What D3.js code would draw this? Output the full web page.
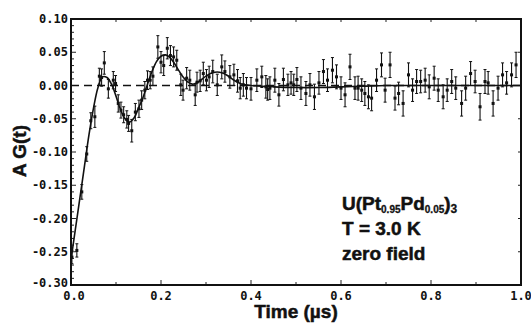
<!DOCTYPE html>
<html>
<head>
<meta charset="utf-8">
<script src="https://cdn.jsdelivr.net/npm/d3@7"></script>
<style>
  body { margin: 0; background: #fff; }
  .tick-lbl { font-family: "DejaVu Sans Mono", monospace; font-size: 12px; font-weight: bold; fill: #111; }
  .big { font-family: "Liberation Sans", Arial, sans-serif; font-weight: bold; fill: #111; stroke: #111; stroke-width: 0.5px; }
</style>
</head>
<body>
<div id="chart"></div>
<script>
// measured asymmetry A G(t) vs time (µs)
let times = [0.002, 0.013, 0.024, 0.035, 0.044, 0.053, 0.063, 0.068, 0.074, 0.083, 0.094, 0.099,
    0.105, 0.111, 0.117, 0.124, 0.128, 0.135, 0.143, 0.151, 0.157, 0.164, 0.170, 0.176, 0.182, 0.193,
    0.200, 0.206, 0.214, 0.221, 0.228, 0.235, 0.244, 0.249, 0.257, 0.264, 0.276, 0.280, 0.287, 0.294,
    0.301, 0.307, 0.315, 0.325, 0.335, 0.342, 0.353, 0.362, 0.370, 0.376, 0.383, 0.390, 0.400, 0.413,
    0.424, 0.433, 0.437, 0.442, 0.453, 0.462, 0.472, 0.482, 0.489, 0.495, 0.502, 0.511, 0.522, 0.531,
    0.541, 0.551, 0.561, 0.570, 0.581, 0.590, 0.600, 0.609, 0.620, 0.631, 0.638, 0.646, 0.653, 0.661,
    0.668, 0.679, 0.690, 0.698, 0.709, 0.720, 0.728, 0.738, 0.750, 0.759, 0.768, 0.777, 0.787, 0.796,
    0.807, 0.816, 0.827, 0.836, 0.846, 0.855, 0.868, 0.877, 0.888, 0.898, 0.909, 0.920, 0.927, 0.938,
    0.949, 0.959, 0.968, 0.979, 0.989];
let values = [-0.258, -0.248, -0.160, -0.103, -0.053, -0.047, 0.014, 0.012, 0.034, -0.005, 0.008, 0.003,
    -0.027, -0.037, -0.044, -0.051, -0.057, -0.068, -0.040, -0.035, -0.022, -0.007, 0.008, 0.008, 0.014, 0.058,
    0.035, 0.030, 0.056, 0.045, 0.043, 0.038, 0.001, -0.007, 0.011, 0.008, -0.014, 0.005, 0.007, 0.018,
    0.008, 0.013, 0.021, 0.001, 0.028, 0.021, 0.013, 0.016, 0.007, -0.004, 0.001, -0.004, -0.005, 0.008,
    0.013, -0.002, -0.006, -0.004, 0.008, -0.014, 0.009, 0.001, 0.004, 0.001, 0.009, -0.004, -0.012, 0.001,
    -0.017, 0.004, 0.021, 0.008, 0.023, 0.013, -0.004, -0.014, 0.028, -0.004, -0.004, -0.007, -0.012, -0.017,
    -0.019, 0.008, 0.031, -0.007, 0.031, -0.019, -0.012, -0.027, 0.016, -0.007, 0.006, 0.006, 0.008, -0.002,
    0.011, -0.007, -0.017, -0.007, 0.006, -0.004, -0.027, -0.004, 0.018, 0.006, -0.032, 0.006, 0.004, -0.027,
    -0.004, 0.016, 0.004, 0.016, 0.031];
let errors = [0.010, 0.010, 0.011, 0.011, 0.012, 0.016, 0.012, 0.013, 0.017, 0.014, 0.013, 0.012,
    0.013, 0.012, 0.012, 0.013, 0.012, 0.017, 0.013, 0.013, 0.014, 0.013, 0.014, 0.013, 0.014, 0.017,
    0.016, 0.015, 0.016, 0.015, 0.015, 0.015, 0.016, 0.015, 0.016, 0.015, 0.016, 0.015, 0.016, 0.017,
    0.016, 0.016, 0.017, 0.016, 0.018, 0.016, 0.017, 0.016, 0.017, 0.016, 0.017, 0.016, 0.017, 0.017,
    0.016, 0.017, 0.016, 0.017, 0.018, 0.017, 0.017, 0.016, 0.017, 0.016, 0.018, 0.017, 0.018, 0.017,
    0.019, 0.017, 0.018, 0.017, 0.019, 0.018, 0.017, 0.018, 0.019, 0.017, 0.018, 0.017, 0.018, 0.018,
    0.019, 0.017, 0.018, 0.018, 0.019, 0.018, 0.017, 0.019, 0.018, 0.017, 0.018, 0.017, 0.018, 0.018,
    0.018, 0.017, 0.018, 0.017, 0.018, 0.017, 0.019, 0.018, 0.018, 0.017, 0.020, 0.018, 0.017, 0.019,
    0.018, 0.018, 0.017, 0.018, 0.019];

// fitted curve
let fitT = [0, 0.01, 0.02, 0.03, 0.04, 0.05, 0.06, 0.07, 0.08, 0.09, 0.10, 0.11, 0.12, 0.13, 0.14, 0.15,
    0.16, 0.17, 0.18, 0.19, 0.20, 0.21, 0.22, 0.23, 0.24, 0.25, 0.26, 0.27, 0.28, 0.29, 0.30, 0.31, 0.32,
    0.33, 0.34, 0.35, 0.36, 0.37, 0.38, 0.40, 0.45, 0.50, 0.55, 0.60, 0.65, 0.70, 0.80, 0.90, 1.00];
let fitV = [-0.262, -0.215, -0.168, -0.121, -0.074, -0.034, -0.003, 0.013, 0.012, 0.002, -0.016, -0.036,
    -0.050, -0.055, -0.049, -0.034, -0.018, 0.002, 0.021, 0.036, 0.044, 0.046, 0.042, 0.033, 0.022, 0.012,
    0.005, 0.002, 0.004, 0.009, 0.014, 0.018, 0.020, 0.020, 0.018, 0.014, 0.009, 0.005, 0.002, 0.000,
    -0.002, -0.003, -0.003, -0.002, -0.001, 0.000, 0.000, 0.000, 0.000];

let yTicks = [0.10, 0.05, 0.00, -0.05, -0.10, -0.15, -0.20, -0.25, -0.30];
let yTickLabels = ["0.10", "0.05", "0.00", "-0.05", "-0.10", "-0.15", "-0.20", "-0.25", "-0.30"];
let xTicks = [0, 0.2, 0.4, 0.6, 0.8, 1.0];
let xTickLabels = ["0.0", "0.2", "0.4", "0.6", "0.8", "1.0"];

let W = 531, H = 323;
let margin = {top: 19, right: 10, bottom: 38, left: 71};
let width = W - margin.left - margin.right;
let height = H - margin.top - margin.bottom;

let svg = d3.select("#chart").append("svg")
    .attr("width", W)
    .attr("height", H);
let g = svg.append("g")
    .attr("transform", "translate(" + margin.left + "," + margin.top + ")");

let x = d3.scaleLinear().domain([0, 1]).range([0, width]);
let y = d3.scaleLinear().domain([-0.30, 0.10]).range([height, 0]);

// minor/major ticks, pointing inward
let yMinor = d3.range(-0.30, 0.1001, 0.01);
g.selectAll(".ytk").data(yMinor).enter().append("line")
    .attr("x1", 0)
    .attr("x2", (d, i) => i % 5 == 0 ? 5 : 3)
    .attr("y1", d => y(d)).attr("y2", d => y(d))
    .attr("stroke", "#222").attr("stroke-width", 1);
g.selectAll(".ytkr").data(yTicks).enter().append("line")
    .attr("x1", width).attr("x2", width - 3)
    .attr("y1", d => y(d)).attr("y2", d => y(d))
    .attr("stroke", "#222").attr("stroke-width", 1);
let xMinor = d3.range(0, 1.0001, 0.1);
g.selectAll(".xtk").data(xMinor).enter().append("line")
    .attr("x1", d => x(d)).attr("x2", d => x(d))
    .attr("y1", height).attr("y2", (d, i) => height - (i % 2 == 0 ? 5 : 3))
    .attr("stroke", "#222").attr("stroke-width", 1);
g.selectAll(".xtkt").data(xMinor).enter().append("line")
    .attr("x1", d => x(d)).attr("x2", d => x(d))
    .attr("y1", 0).attr("y2", 3)
    .attr("stroke", "#222").attr("stroke-width", 1);

// tick labels
g.selectAll(".ylbl").data(yTicks).enter().append("text")
    .attr("class", "tick-lbl")
    .attr("x", -3)
    .attr("y", d => y(d) + (d == -0.30 ? 2 : 4))
    .attr("text-anchor", "end")
    .text((d, i) => yTickLabels[i]);
g.selectAll(".xlbl").data(xTicks).enter().append("text")
    .attr("class", "tick-lbl")
    .attr("x", d => x(d) + (d == 0 ? 3 : 0))
    .attr("y", height + 15)
    .attr("text-anchor", "middle")
    .text((d, i) => xTickLabels[i]);

// dashed zero line
g.append("line")
    .attr("x1", 0).attr("x2", width)
    .attr("y1", y(0)).attr("y2", y(0))
    .attr("stroke", "#111").attr("stroke-width", 1.4)
    .attr("stroke-dasharray", "8,5");

// fit line
let fitData = fitT.map((t, i) => ({t: t, v: fitV[i]}));
let line = d3.line()
    .x(d => x(d.t))
    .y(d => y(d.v))
    .curve(d3.curveCatmullRom);
g.append("path")
    .datum(fitData)
    .attr("d", line)
    .attr("fill", "none")
    .attr("stroke", "#111")
    .attr("stroke-width", 1.6);

// data with error bars
let pts = times.map((t, i) => ({t: t, v: values[i], e: errors[i]}));
let pg = g.selectAll(".pt").data(pts).enter().append("g").attr("class", "pt");
pg.append("line")
    .attr("x1", d => x(d.t)).attr("x2", d => x(d.t))
    .attr("y1", d => y(d.v - d.e)).attr("y2", d => y(d.v + d.e))
    .attr("stroke", "#111").attr("stroke-width", 1.1);
pg.append("line")
    .attr("x1", d => x(d.t) - 1.5).attr("x2", d => x(d.t) + 1.5)
    .attr("y1", d => y(d.v + d.e)).attr("y2", d => y(d.v + d.e))
    .attr("stroke", "#111").attr("stroke-width", 1);
pg.append("line")
    .attr("x1", d => x(d.t) - 1.5).attr("x2", d => x(d.t) + 1.5)
    .attr("y1", d => y(d.v - d.e)).attr("y2", d => y(d.v - d.e))
    .attr("stroke", "#111").attr("stroke-width", 1);
pg.append("rect")
    .attr("x", d => x(d.t) - 1.5).attr("y", d => y(d.v) - 1.5)
    .attr("width", 3).attr("height", 3)
    .attr("fill", "#111");

// frame
g.append("rect")
    .attr("x", 0).attr("y", 0)
    .attr("width", width).attr("height", height)
    .attr("fill", "none")
    .attr("stroke", "#111").attr("stroke-width", 2);

// axis titles
svg.append("text")
    .attr("class", "big")
    .attr("transform", "translate(26,151) rotate(-90)")
    .attr("text-anchor", "middle")
    .style("font-size", "19px")
    .text("A G(t)");
svg.append("text")
    .attr("class", "big")
    .attr("x", margin.left + width / 2)
    .attr("y", 318)
    .attr("text-anchor", "middle")
    .style("font-size", "19px")
    .text("Time (\u00b5s)");

// annotation
let ann = svg.append("text")
    .attr("class", "big")
    .attr("x", 342)
    .attr("y", 210)
    .style("font-size", "19px");
ann.append("tspan").text("U(Pt");
ann.append("tspan").attr("dy", 3).style("font-size", "10px").style("stroke-width", "0.3px").text("0.95");
ann.append("tspan").attr("dy", -3).text("Pd");
ann.append("tspan").attr("dy", 3).style("font-size", "10px").style("stroke-width", "0.3px").text("0.05");
ann.append("tspan").attr("dy", -3).text(")");
ann.append("tspan").attr("dy", 3).style("font-size", "12px").style("stroke-width", "0.3px").text("3");
svg.append("text")
    .attr("class", "big")
    .attr("x", 342).attr("y", 235)
    .style("font-size", "19px")
    .text("T = 3.0 K");
svg.append("text")
    .attr("class", "big")
    .attr("x", 342).attr("y", 260)
    .style("font-size", "19px")
    .text("zero field");
</script>
</body>
</html>
